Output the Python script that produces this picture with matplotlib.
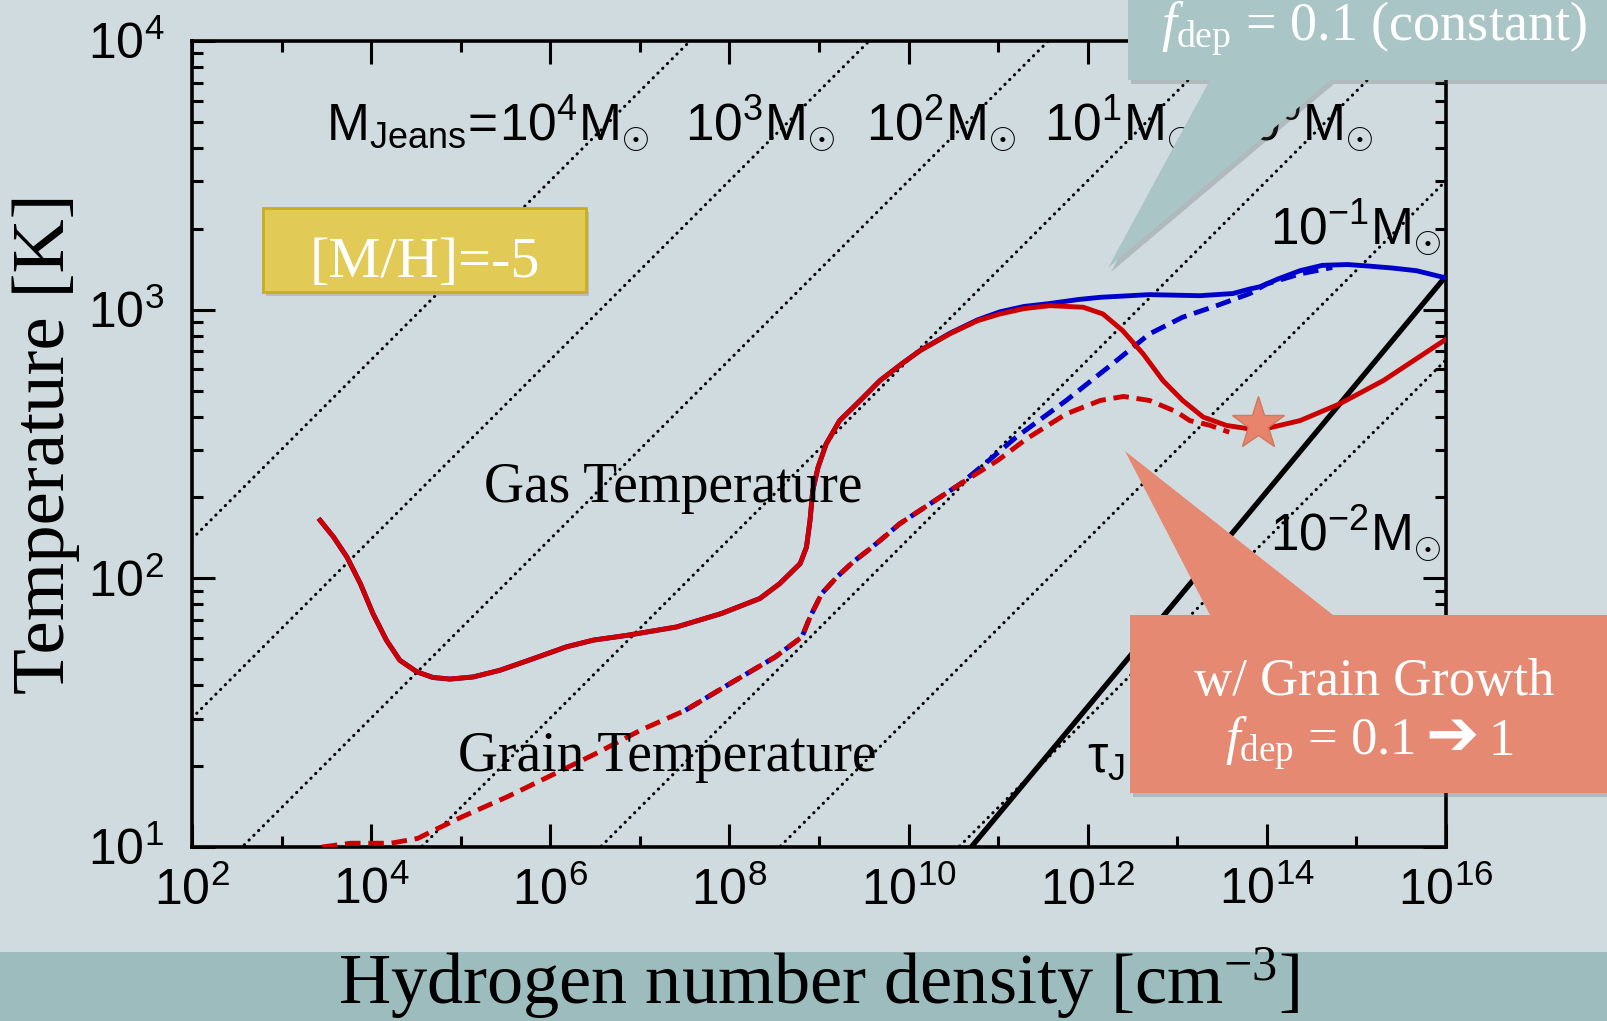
import numpy as np
import matplotlib
matplotlib.use('Agg')
import matplotlib.pyplot as plt
from matplotlib.patches import Polygon, Rectangle
from matplotlib.ticker import FixedLocator, FuncFormatter, NullFormatter

W, H = 1608, 1021

BG = '#CFDBDF'
BAND = '#9DBCBD'
RED = '#CC0000'
BLUE = '#0000CC'

# ---------------------------------------------------------------------
# data: log10(n_H [cm^-3]) and log10(T [K])
# ---------------------------------------------------------------------
# gas temperature, with grain growth (f_dep = 0.1 -> 1)
gas_growth_logn = [3.43, 3.58, 3.73, 3.88, 4.02, 4.17, 4.32, 4.51, 4.69, 4.88,
                   5.14, 5.44, 5.81, 6.18, 6.48, 6.86, 7.41, 7.91, 8.34, 8.56,
                   8.79, 8.86, 8.90, 8.93, 8.99, 9.08, 9.23, 9.46, 9.68, 9.93,
                   10.13, 10.46, 10.77, 11.02, 11.29, 11.58, 11.95, 12.17, 12.39, 12.62,
                   12.84, 13.06, 13.29, 13.55, 13.81, 14.00, 14.37, 14.81, 15.30, 16.00]
gas_growth_logT = [2.216, 2.154, 2.079, 1.980, 1.869, 1.770, 1.695, 1.652, 1.631, 1.625,
                   1.633, 1.658, 1.701, 1.745, 1.770, 1.788, 1.819, 1.869, 1.925, 1.980,
                   2.055, 2.116, 2.216, 2.327, 2.414, 2.500, 2.587, 2.662, 2.736, 2.800,
                   2.848, 2.910, 2.959, 2.984, 3.004, 3.015, 3.009, 2.984, 2.922, 2.835,
                   2.736, 2.662, 2.600, 2.569, 2.556, 2.558, 2.587, 2.649, 2.736, 2.890]

# gas temperature, constant f_dep = 0.1
gas_const_logn = [3.43, 3.58, 3.73, 3.88, 4.02, 4.17, 4.32, 4.51, 4.69, 4.88,
                  5.14, 5.44, 5.81, 6.18, 6.48, 6.86, 7.41, 7.91, 8.34, 8.56,
                  8.79, 8.86, 8.90, 8.93, 8.99, 9.08, 9.23, 9.46, 9.68, 9.93,
                  10.13, 10.46, 10.77, 11.02, 11.29, 11.58, 11.90, 12.14, 12.69, 13.25,
                  13.62, 13.81, 13.92, 14.13, 14.37, 14.62, 14.90, 15.11, 15.40, 15.67,
                  16.00]
gas_const_logT = [2.216, 2.154, 2.079, 1.980, 1.869, 1.770, 1.695, 1.652, 1.631, 1.625,
                  1.633, 1.658, 1.701, 1.745, 1.770, 1.788, 1.819, 1.869, 1.925, 1.980,
                  2.055, 2.116, 2.216, 2.327, 2.414, 2.500, 2.587, 2.662, 2.736, 2.800,
                  2.848, 2.912, 2.962, 2.992, 3.012, 3.023, 3.038, 3.046, 3.056, 3.052,
                  3.060, 3.077, 3.085, 3.115, 3.145, 3.165, 3.168, 3.163, 3.155, 3.145,
                  3.118]

# grain temperature, with grain growth
dust_growth_logn = [3.45, 3.77, 4.22, 4.52, 4.75, 5.02, 5.52, 6.02, 6.51, 7.01,
                    7.51, 8.01, 8.51, 8.81, 8.90, 9.03, 9.20, 9.38, 9.57, 9.75,
                    9.90, 10.58, 11.00, 11.32, 11.76, 12.14, 12.40, 12.69, 12.99, 13.14,
                    13.36, 13.58]
dust_growth_logT = [1.000, 1.014, 1.014, 1.032, 1.070, 1.113, 1.187, 1.268, 1.348, 1.435,
                    1.509, 1.609, 1.707, 1.782, 1.856, 1.943, 2.005, 2.061, 2.110, 2.160,
                    2.203, 2.352, 2.440, 2.520, 2.612, 2.662, 2.677, 2.662, 2.620, 2.587,
                    2.570, 2.544]

# grain temperature, constant f_dep
dust_const_logn = [7.51, 8.01, 8.51, 8.81, 8.90, 9.03, 9.20, 9.38, 9.57, 9.75,
                   9.90, 10.58, 10.90, 11.20, 11.76, 12.32, 12.69, 13.06, 13.44, 13.81,
                   14.00, 14.37, 14.73]
dust_const_logT = [1.509, 1.609, 1.707, 1.782, 1.856, 1.943, 2.005, 2.061, 2.110, 2.160,
                   2.203, 2.352, 2.440, 2.525, 2.662, 2.810, 2.910, 2.972, 3.015, 3.060,
                   3.096, 3.133, 3.157]

# tau_J = 1 line
tau_logn = [10.7, 16.0]
tau_logT = [1.0, 3.125]

# star: onset of grain growth
star_logn = [13.9]
star_logT = [2.575]

# Jeans mass lines [M_sun]; M_J = 1 M_sun at T = 10 K, n = 10^6.56
jeans_masses = [1e4, 1e3, 1e2, 1e1, 1e0, 1e-1, 1e-2]
jeans_ref_logn = 6.56


def jeans_T(n, mass):
    # M_J ~ T^(3/2) n^(-1/2)  ->  T = 10 K (M^2 n / n_ref)^(1/3)
    return 10.0 * (mass ** 2 * n / 10 ** jeans_ref_logn) ** (1.0 / 3.0)


def pw(v):
    return np.power(10.0, np.asarray(v))


def fx(x):
    return x / W


def fy(y):
    return 1.0 - y / H


plt.rcParams['mathtext.fontset'] = 'custom'
plt.rcParams['mathtext.rm'] = 'Liberation Serif'
plt.rcParams['mathtext.it'] = 'Liberation Serif:italic'
plt.rcParams['mathtext.sf'] = 'Liberation Sans'
plt.rcParams['font.family'] = ['Liberation Serif', 'DejaVu Sans']

fig = plt.figure(figsize=(W / 100, H / 100), dpi=100, facecolor=BG)
ax = fig.add_axes([fx(192), fy(847), (1446 - 192) / W, (847 - 41) / H])
ax.set_facecolor('none')
ax.set_xscale('log')
ax.set_yscale('log')
ax.set_xlim(1e2, 1e16)
ax.set_ylim(1e1, 1e4)

# bottom band behind the x label
fig.add_artist(Rectangle((0, 0), 1, fy(952), transform=fig.transFigure,
                         facecolor=BAND, edgecolor='none', zorder=-1))

# Jeans mass lines
nn = np.logspace(2, 16, 300)
for m in jeans_masses:
    ax.plot(nn, jeans_T(nn, m), color='black', lw=2.2, dashes=(0.1, 2.1),
            dash_capstyle='round', zorder=1)

ax.plot(pw(tau_logn), pw(tau_logT), color='black', lw=3.8, zorder=2)

LW = 3.5
ax.plot(pw(gas_const_logn), pw(gas_const_logT), color=BLUE, lw=LW, zorder=3)
ax.plot(pw(dust_const_logn), pw(dust_const_logT), color=BLUE, lw=LW,
        dashes=(3.2, 1.6), zorder=3)
ax.plot(pw(dust_growth_logn), pw(dust_growth_logT), color=RED, lw=LW,
        dashes=(3.2, 1.6), zorder=4)
ax.plot(pw(gas_growth_logn), pw(gas_growth_logT), color=RED, lw=LW, zorder=4)

ax.plot(pw(star_logn), pw(star_logT), marker='*', ms=40, color='#E8846C',
        markeredgecolor='#D07760', markeredgewidth=1.0, ls='none', zorder=6)

# axes cosmetics
for s in ax.spines.values():
    s.set_linewidth(2.6)
ax.xaxis.set_major_locator(FixedLocator([1e2, 1e4, 1e6, 1e8, 1e10, 1e12, 1e14, 1e16]))
ax.xaxis.set_minor_locator(FixedLocator([1e3, 1e5, 1e7, 1e9, 1e11, 1e13, 1e15]))
ax.xaxis.set_minor_formatter(NullFormatter())
ax.yaxis.set_minor_formatter(NullFormatter())
sci = FuncFormatter(lambda v, pos: r'$\mathsf{10^{%d}}$' % round(np.log10(v)))
ax.xaxis.set_major_formatter(sci)
ax.yaxis.set_major_formatter(sci)
ax.tick_params(which='both', direction='in', top=True, right=True, width=2.2)
ax.tick_params(which='major', length=16.5)
ax.tick_params(which='minor', length=8)
ax.tick_params(axis='x', which='major', pad=15, labelsize=36)
ax.tick_params(axis='y', which='major', pad=20, labelsize=36)

ax.set_xlabel(r'Hydrogen number density [cm$^{-3}$]', fontsize=52,
              family='Liberation Serif')
ax.xaxis.set_label_coords(0.5, (847 - 1004) / 806)
ax.xaxis.label.set_va('baseline')
ax.set_ylabel('Temperature [K]', fontsize=54, family='Liberation Serif')
ax.yaxis.set_label_coords((46 - 192) / 1254, 0.5)
ax.yaxis.label.set_va('center')

# curve labels
fig.text(fx(673), fy(502), 'Gas Temperature', fontsize=40, ha='center',
         va='baseline', zorder=0.5)
fig.text(fx(667), fy(771), 'Grain Temperature', fontsize=40, ha='center',
         va='baseline', zorder=0.5)

# Jeans mass labels
jlabels = [(326, 141, r'$\mathsf{M_{Jeans}\!=\!10^{4}M_{\odot}}$'),
           (685, 141, r'$\mathsf{10^{3}M_{\odot}}$'),
           (866, 141, r'$\mathsf{10^{2}M_{\odot}}$'),
           (1044, 141, r'$\mathsf{10^{1}M_{\odot}}$'),
           (1223, 141, r'$\mathsf{10^{0}M_{\odot}}$'),
           (1270, 245, r'$\mathsf{10^{-1}M_{\odot}}$'),
           (1270, 551, r'$\mathsf{10^{-2}M_{\odot}}$'),
           (1087, 772, r'$\mathsf{\tau_{J}\!=\!1}$')]
for x, y, s in jlabels:
    fig.text(fx(x), fy(y), s, fontsize=37, ha='left', va='baseline', zorder=3)

# [M/H] box
fig.add_artist(Rectangle((fx(266), fy(296)), (586 - 263) / W, (292 - 208) / H,
                         transform=fig.transFigure, facecolor='#8A8A6A',
                         edgecolor='none', alpha=0.35, zorder=4))
fig.add_artist(Rectangle((fx(263), fy(292)), (586 - 263) / W, (292 - 208) / H,
                         transform=fig.transFigure, facecolor='#E1CA55',
                         edgecolor='#C8AD22', lw=2, zorder=4.5))
fig.text(fx(425), fy(277), '[M/H]=-5', color='white', fontsize=42,
         ha='center', va='baseline', zorder=5)


def callout(pts, color):
    sh = [(fx(x + 3), fy(y + 4)) for x, y in pts]
    fig.add_artist(Polygon(sh, closed=True, transform=fig.transFigure,
                           facecolor='#555555', edgecolor='none', alpha=0.25,
                           zorder=7))
    fig.add_artist(Polygon([(fx(x), fy(y)) for x, y in pts], closed=True,
                           transform=fig.transFigure, facecolor=color,
                           edgecolor='none', zorder=7.5))


callout([(1128, -10), (1620, -10), (1620, 80), (1331, 80), (1108, 268),
         (1210, 80), (1128, 80)], '#A9C5C6')
callout([(1130, 615), (1210, 615), (1125, 451), (1333, 615), (1620, 615),
         (1620, 793), (1130, 793)], '#E58973')

fig.text(fx(1374), fy(40), r'$f_{\mathrm{dep}}$ = 0.1 (constant)', color='white',
         fontsize=39, ha='center', va='baseline', zorder=8)
fig.text(fx(1374), fy(695), 'w/ Grain Growth', color='white', fontsize=38,
         ha='center', va='baseline', zorder=8)

# second line of the growth callout, built from pieces so the arrow glyph
# comes from DejaVu Sans
rend = fig.canvas.get_renderer()
pieces = [(r'$f_{\mathrm{dep}}$ = 0.1', 'Liberation Serif', 38),
          ('\u2794', 'DejaVu Sans', 46),
          ('1', 'Liberation Serif', 38)]
gap = 10
texts = [fig.text(0, fy(755), s, color='white', fontsize=fs, family=fam,
                  ha='left', va='baseline', zorder=8) for s, fam, fs in pieces]
widths = [t.get_window_extent(rend).width for t in texts]
x0 = 1370 - (sum(widths) + gap * (len(widths) - 1)) / 2
for t, w in zip(texts, widths):
    t.set_x(fx(x0))
    x0 += w + gap

fig.savefig('out.png', dpi=100, facecolor=BG)
